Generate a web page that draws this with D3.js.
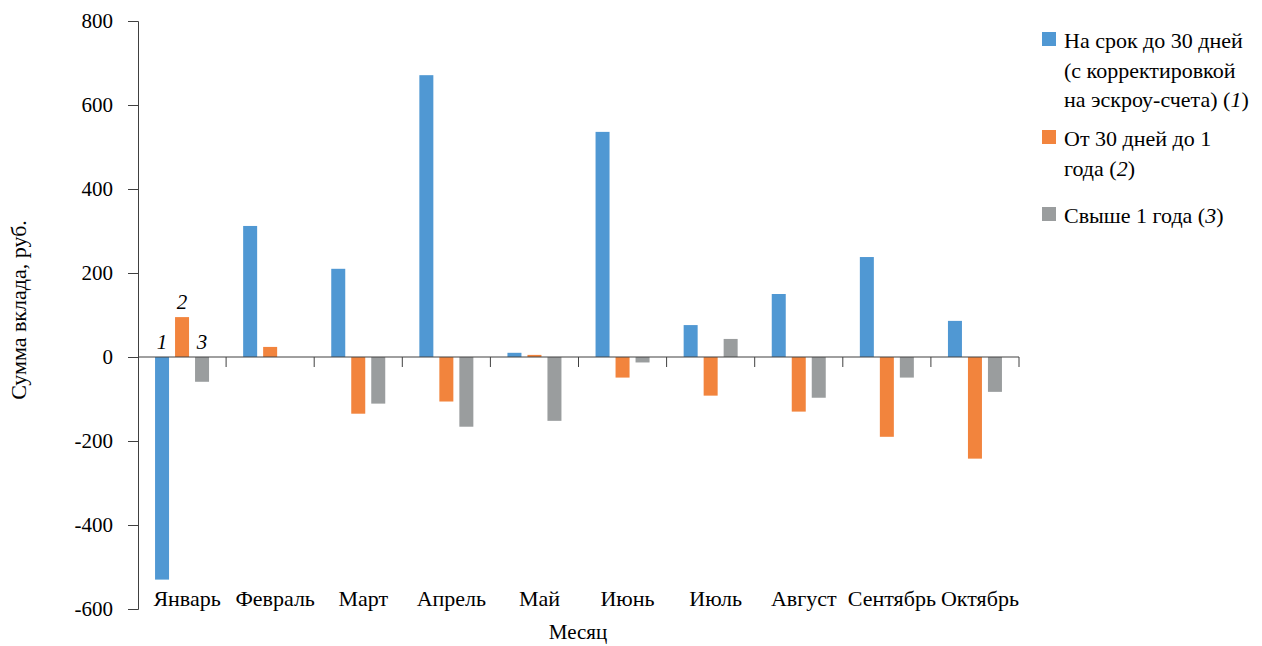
<!DOCTYPE html>
<html lang="ru">
<head>
<meta charset="UTF-8">
<title>Сумма вклада</title>
<script src="https://d3js.org/d3.v7.min.js"></script>
<style>
  body { margin: 0; background: #fff; }
  svg text { font-family: "Liberation Serif", Tinos, "Nimbus Roman", "Times New Roman", Times, "DejaVu Serif", serif !important; fill: #000; }
</style>
</head>
<body>
<svg></svg>
<script>
    // months on the x axis
    let months = ["Январь", "Февраль", "Март", "Апрель", "Май", "Июнь", "Июль", "Август", "Сентябрь", "Октябрь"];

    // series values, руб.
    let upTo30 = [-530, 312, 210, 671, 10, 536, 76, 150, 238, 86];
    let from30To1y = [95, 24, -135, -106, 5, -49, -92, -130, -190, -242];
    let over1y = [-59, 0, -111, -166, -152, -13, 43, -97, -49, -83];

    let yTicks = [-600, -400, -200, 0, 200, 400, 600, 800];

    let seriesNames = [
        ["На срок до 30 дней", "(с корректировкой", "на эскроу-счета) (", "1", ")"],
        ["От 30 дней до 1", "года (", "2", ")"],
        ["Свыше 1 года (", "3", ")"]
    ];
    let colors = ["#5098d3", "#f2843d", "#9a9d9e"];

    let width = 1262;
    let height = 646;

    let svg = d3.select("svg")
        .attr("width", width)
        .attr("height", height);

    let x0 = d3.scaleBand()
        .domain(months)
        .range([138, 1019])
        .paddingInner(0)
        .paddingOuter(0);

    // three bars per month, 14px wide, 20px step
    let x1 = d3.scaleBand()
        .domain([0, 1, 2])
        .range([x0.bandwidth() / 2 - 27, x0.bandwidth() / 2 + 27])
        .paddingInner(0.3)
        .paddingOuter(0);

    let y = d3.scaleLinear()
        .domain([-600, 800])
        .range([609, 21]);

    let series = [upTo30, from30To1y, over1y];

    let rows = months.map((m, i) => ({
        month: m,
        vals: series.map((s, k) => ({ k: k, v: s[i] }))
    }));

    // bars
    let groups = svg.append("g").selectAll("g")
        .data(rows)
        .enter()
        .append("g")
        .attr("transform", d => "translate(" + x0(d.month) + ",0)");

    groups.selectAll("rect")
        .data(d => d.vals)
        .enter()
        .append("rect")
        .attr("x", d => x1(d.k))
        .attr("width", x1.bandwidth())
        .attr("y", d => y(Math.max(0, d.v)))
        .attr("height", d => Math.abs(y(d.v) - y(0)))
        .attr("fill", d => colors[d.k]);

    // y axis
    let yAxis = svg.append("g")
        .attr("transform", "translate(138,0)")
        .call(d3.axisLeft(y).tickValues(yTicks).tickSize(10).tickPadding(15).tickFormat(d => String(d)));
    yAxis.selectAll("path, line").attr("stroke", "#404040");
    yAxis.selectAll("text")
        .style("font-size", "21px")
        .attr("dy", "0.33em");

    // x axis at zero: line with ticks at the month boundaries
    let xAxis = svg.append("g").attr("transform", "translate(0," + y(0) + ")");
    xAxis.append("line")
        .attr("x1", x0.range()[0]).attr("x2", x0.range()[1])
        .attr("stroke", "#404040");
    let bounds = months.map(m => x0(m) + x0.bandwidth());
    xAxis.selectAll(".tick")
        .data(bounds)
        .enter()
        .append("line")
        .attr("x1", d => d).attr("x2", d => d)
        .attr("y1", 0).attr("y2", 10)
        .attr("stroke", "#404040");

    // month labels at the bottom
    svg.append("g").selectAll("text")
        .data(months)
        .enter()
        .append("text")
        .attr("x", d => x0(d) + x0.bandwidth() / 2 + 5)
        .attr("y", 606)
        .attr("text-anchor", "middle")
        .style("font-size", "22px")
        .text(d => d);

    // series numbers over January
    svg.append("g").selectAll("text")
        .data(rows[0].vals)
        .enter()
        .append("text")
        .attr("x", d => x0(months[0]) + x1(d.k) + x1.bandwidth() / 2)
        .attr("y", d => d.v > 0 ? y(d.v) - 8 : y(0) - 8)
        .attr("text-anchor", "middle")
        .style("font-size", "21px")
        .style("font-style", "italic")
        .text(d => d.k + 1);

    // axis titles
    svg.append("text")
        .attr("x", 578)
        .attr("y", 639)
        .attr("text-anchor", "middle")
        .style("font-size", "21px")
        .text("Месяц");

    svg.append("text")
        .attr("transform", "translate(26,310) rotate(-90)")
        .attr("text-anchor", "middle")
        .style("font-size", "22px")
        .text("Сумма вклада, руб.");

    // legend
    let legendTop = [32, 130, 207];
    let lineH = 29.5;
    let legend = svg.append("g");
    seriesNames.forEach((parts, k) => {
        legend.append("rect")
            .attr("x", 1042).attr("y", legendTop[k])
            .attr("width", 14).attr("height", 14)
            .attr("fill", colors[k]);
        let lines;
        if (k === 0) {
            lines = [[parts[0]], [parts[1]], [parts[2], parts[3], parts[4]]];
        } else if (k === 1) {
            lines = [[parts[0]], [parts[1], parts[2], parts[3]]];
        } else {
            lines = [[parts[0], parts[1], parts[2]]];
        }
        lines.forEach((ln, j) => {
            let t = legend.append("text")
                .attr("x", 1064)
                .attr("y", legendTop[k] + 16 + j * lineH)
                .style("font-size", "22px");
            ln.forEach((p, q) => {
                t.append("tspan")
                    .style("font-style", (ln.length === 3 && q === 1) ? "italic" : "normal")
                    .text(p);
            });
        });
    });
</script>
</body>
</html>
